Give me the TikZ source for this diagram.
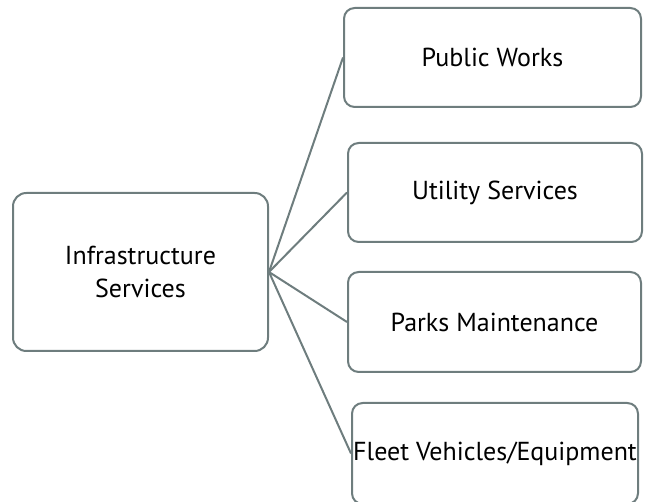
\documentclass[tikz,border=0pt]{standalone}
\usepackage{fontspec}
\setmainfont{PT Sans}
\usetikzlibrary{positioning}
\definecolor{lineGray}{RGB}{110,125,126}
\tikzset{
  box/.style = {
    draw=lineGray,
    line width=1.5pt,
    rectangle,
    rounded corners=8pt,
    align=center,
    inner sep=0pt,
    font=\fontsize{19.5}{24.75}\selectfont,
  },
  branch/.style = {
    draw=lineGray,
    line width=1.5pt,
  },
}

\begin{document}
\begin{tikzpicture}[
  x=.75pt,
  y=-.75pt,
  wide/.style = {
    box,
    minimum height=74.25pt,
  },
]

\useasboundingbox (0,0) rectangle (647,502);

\node(Infra)[box, minimum width=191.25pt, minimum height=118.5pt,
  rounded corners=10pt] at (140.5,272) {Infrastructure\\Services};

\node(PublicWorks)[wide, minimum width=222.75pt] at (492.5,57.5) {Public Works};
\node(Utility)[wide, minimum width=220.5pt] at (495,192.5) {Utility Services};
\node(Parks)[wide, minimum width=219.75pt, minimum height=75pt] at (494.5,322) {Parks Maintenance};
\node(Fleet)[wide, minimum width=214.5pt, minimum height=75.75pt] at (495,453.5) {Fleet Vehicles/Equipment};

\foreach \target in {PublicWorks, Utility, Parks, Fleet}
  \draw[branch] (Infra.east) -- (\target.west);

\end{tikzpicture}
\end{document}
